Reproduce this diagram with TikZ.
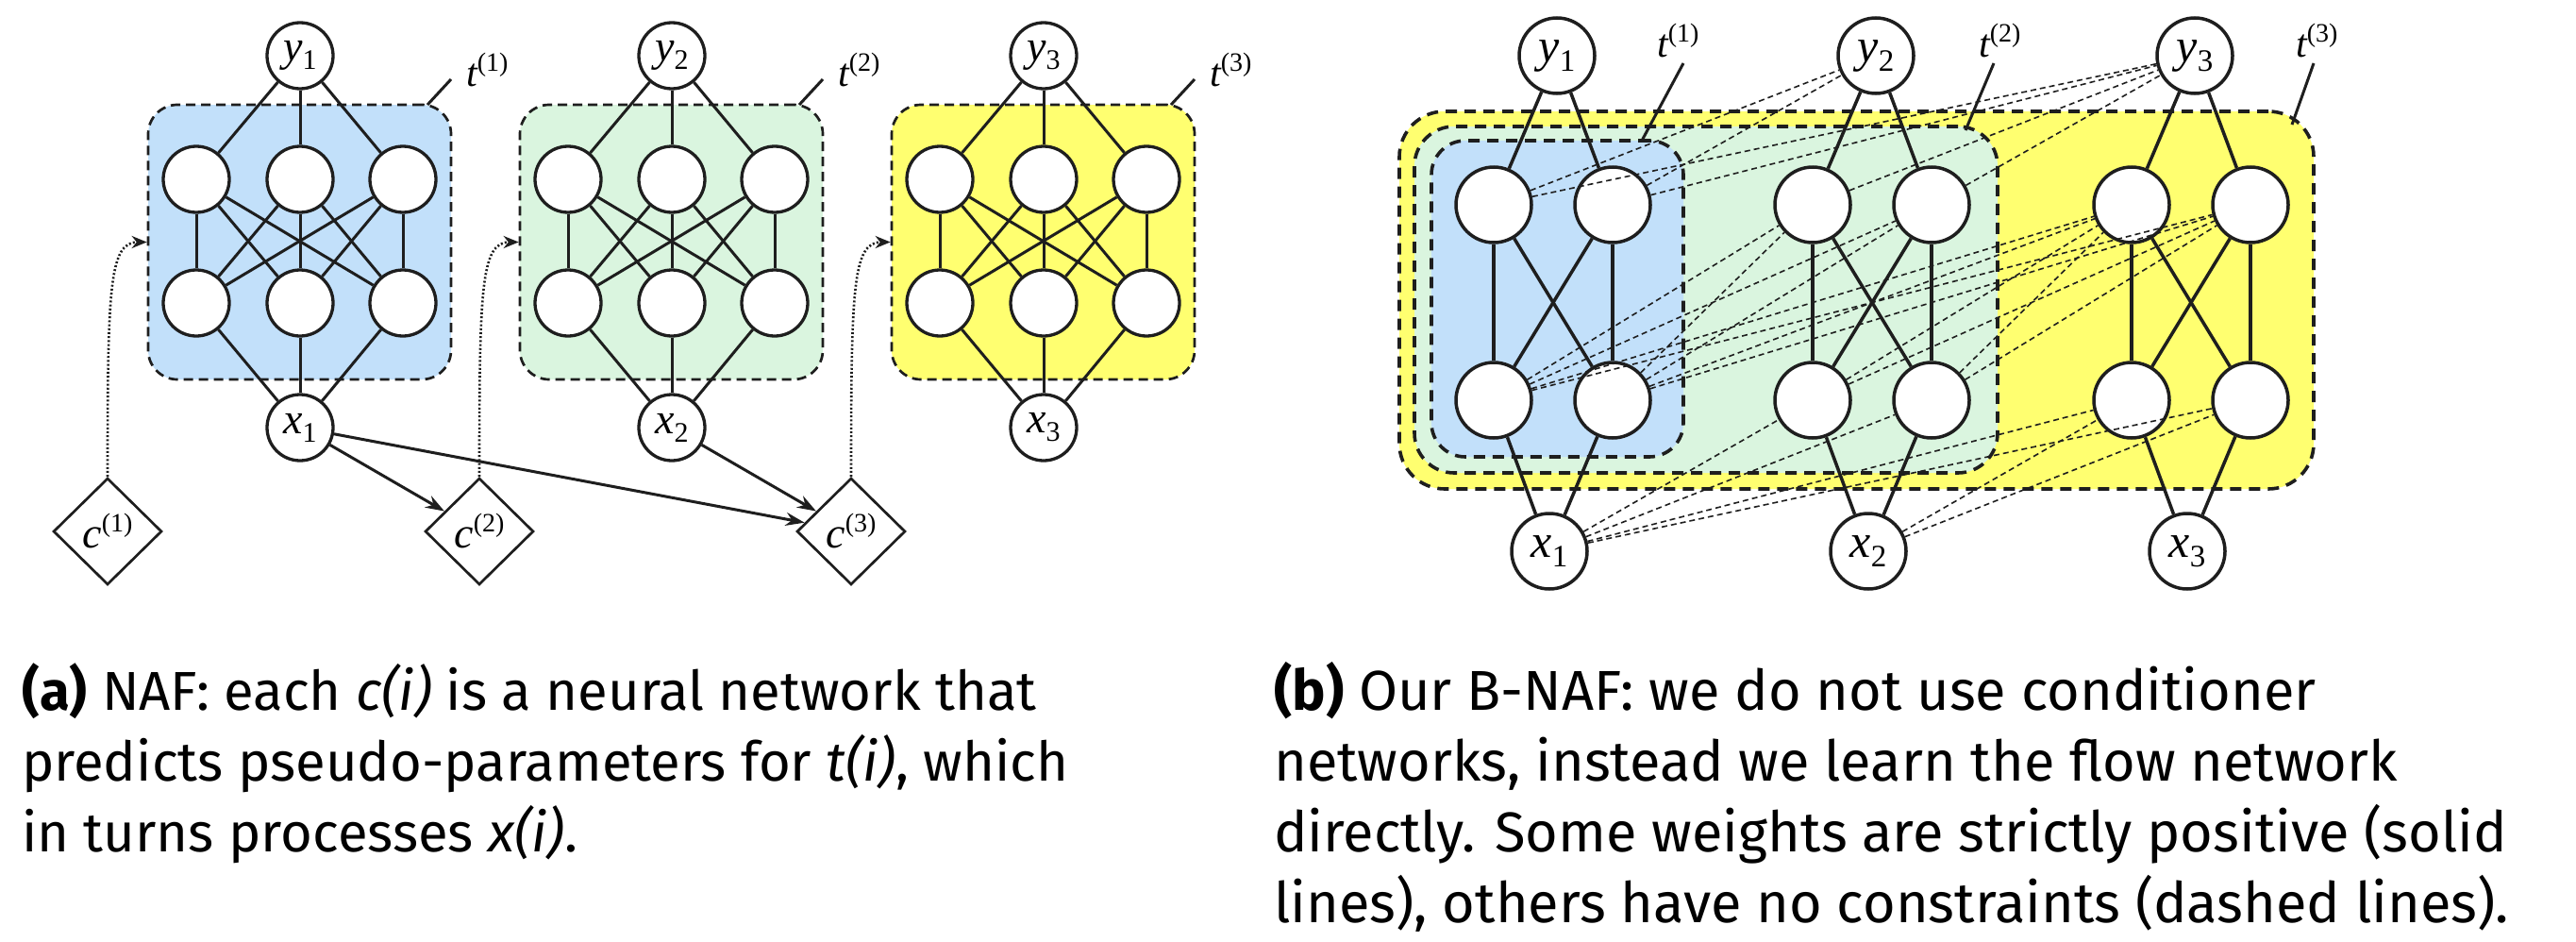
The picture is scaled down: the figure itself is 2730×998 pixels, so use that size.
\documentclass[tikz,border=0pt]{standalone}
\usepackage{fontspec}
\setmainfont{Fira Sans}
\newfontfamily\tms{Liberation Serif}
\usetikzlibrary{shapes.geometric,arrows.meta}

\definecolor{ink}{RGB}{30,30,30}
\definecolor{blueF}{RGB}{194,224,250}
\definecolor{greenF}{RGB}{218,245,223}
\definecolor{yellowF}{RGB}{255,255,112}

% variable labels: italic letter with upright subscript
\newcommand\alab[2]{{\fontsize{46}{46}\selectfont\itshape #1}\raisebox{-9pt}{\fontsize{30}{30}\selectfont #2}}
\newcommand\blab[2]{{\fontsize{50}{50}\selectfont\itshape #1}\raisebox{-10pt}{\fontsize{33}{33}\selectfont #2}}
% transformer / conditioner labels with bracketed superscript
\newcommand\tlab[1]{{\fontsize{42}{42}\selectfont\itshape t}\raisebox{17pt}{\fontsize{28}{28}\selectfont(#1)}}
\newcommand\clab[1]{{\fontsize{46}{46}\selectfont\itshape c}\raisebox{17pt}{\fontsize{28}{28}\selectfont(#1)}}

\begin{document}
\begin{tikzpicture}[x=1pt,y=-1pt,
  neuronA/.style={circle, draw=ink, fill=white, line width=3.3pt, minimum size=70pt, inner sep=0pt, font=\tms},
  neuronB/.style={circle, draw=ink, fill=white, line width=3.5pt, minimum size=80pt, inner sep=0pt, font=\tms},
  gate/.style={diamond, draw=ink, fill=white, line width=2.7pt, minimum width=115pt, minimum height=113pt, inner sep=0pt, font=\tms},
  blockA/.style={draw=ink, rounded corners=31pt, dash pattern=on 10pt off 6pt, line width=2.7pt, inner sep=0pt},
  blockB/.style={draw=ink, dash pattern=on 12pt off 8pt, line width=3.6pt, inner sep=0pt},
  wireA/.style={draw=ink, line width=3pt},
  wireB/.style={draw=ink, line width=3.5pt},
  free/.style={draw=ink, line width=1.6pt, dash pattern=on 6pt off 4pt},
  feed/.style={draw=ink, line width=3pt, -{Stealth[length=20pt,width=14pt]}},
  cond/.style={draw=ink, line width=2.6pt, dash pattern=on 2pt off 2.2pt, -{Stealth[length=16pt,width=13pt]}},
  tag/.style={font=\tms, inner sep=0pt, anchor=base west},
  captext/.style={font=\fontsize{58}{75}\selectfont, inner sep=0pt, anchor=base west},
  captextb/.style={font=\fontsize{59.5}{75}\selectfont, inner sep=0pt, anchor=base west}
]
\useasboundingbox (0,0) rectangle (2730,998);
\clip (0,0) rectangle (2730,998);

% ---------------- (a) NAF ----------------
\foreach \i/\col in {1/blueF,2/greenF,3/yellowF}{
  \pgfmathsetmacro\ox{394*(\i-1)}
  \node[blockA, fill=\col, minimum width=321pt, minimum height=291pt] (A\i) at ({317.5+\ox},256.5) {};
  \node[neuronA] (Y\i) at ({318+\ox},59) {\alab{y}{\i}};
  \node[neuronA] (X\i) at ({318+\ox},453) {\alab{x}{\i}};
  \foreach \j/\dx in {1/-110,2/0,3/109}{
    \node[neuronA] (T\i\j) at ({318+\ox+\dx},190) {};
    \node[neuronA] (B\i\j) at ({318+\ox+\dx},321) {};
  }
  \foreach \j in {1,2,3}{
    \draw[wireA] (X\i) -- (B\i\j);
    \draw[wireA] (T\i\j) -- (Y\i);
    \foreach \k in {1,2,3}{\draw[wireA] (B\i\j) -- (T\i\k);}
  }
  \node[gate] (C\i) at ({114+\ox},563) {\clab{\i}};
  \draw[cond] (C\i.north) .. controls +(0,-200) and +(-40,0) .. (A\i.west);
  \node[tag] (tA\i) at ({494+\ox},92) {\tlab{\i}};
  \coordinate (tAs\i) at ({453+\ox},111);
  \coordinate (tAe\i) at ({478+\ox},84);
  \draw[wireA] (tAs\i) -- (tAe\i);
}
\draw[feed] (X1) -- (C2);
\draw[feed] (X1) -- (C3);
\draw[feed] (X2) -- (C3);

% ---------------- (b) B-NAF ----------------
\node[blockB, rounded corners=48pt, fill=yellowF, minimum width=969pt, minimum height=400pt] (BY) at (1967.5,318) {};
\node[blockB, rounded corners=42pt, fill=greenF, minimum width=618pt, minimum height=367pt] (BG) at (1808,317.5) {};
\node[blockB, rounded corners=36pt, fill=blueF, minimum width=267pt, minimum height=335pt] (BB) at (1650.5,316.5) {};

\foreach \b in {1,2,3}{
  \pgfmathsetmacro\ox{338*(\b-1)}
  \node[neuronB] (P\b1) at ({1583+\ox},424) {};
  \node[neuronB] (P\b2) at ({1709+\ox},424) {};
  \node[neuronB] (Q\b1) at ({1583+\ox},217) {};
  \node[neuronB] (Q\b2) at ({1709+\ox},217) {};
  \node[neuronB] (V\b) at ({1650+\ox},59) {\blab{y}{\b}};
  \node[neuronB] (U\b) at ({1642+\ox},584) {\blab{x}{\b}};
  \foreach \j in {1,2}{
    \draw[wireB] (U\b) -- (P\b\j);
    \draw[wireB] (Q\b\j) -- (V\b);
    \foreach \k in {1,2}{\draw[wireB] (P\b\j) -- (Q\b\k);}
  }
}
% unconstrained (off-diagonal) weights
\foreach \j in {1,2}{
  \draw[free] (U1) -- (P2\j);
  \draw[free] (U1) -- (P3\j);
  \draw[free] (U2) -- (P3\j);
  \foreach \k in {1,2}{
    \draw[free] (P1\k) -- (Q2\j);
    \draw[free] (P1\k) -- (Q3\j);
    \draw[free] (P2\k) -- (Q3\j);
  }
  \draw[free] (Q1\j) -- (V2);
  \draw[free] (Q1\j) -- (V3);
  \draw[free] (Q2\j) -- (V3);
}

\node[tag] (tB1) at (1756,61) {\tlab{1}};
\node[tag] (tB2) at (2097,61) {\tlab{2}};
\node[tag] (tB3) at (2433,61) {\tlab{3}};
\coordinate (tBs1) at (1740,149); \coordinate (tBe1) at (1784,67);
\coordinate (tBs2) at (2083,138); \coordinate (tBe2) at (2113,67);
\coordinate (tBs3) at (2429,132); \coordinate (tBe3) at (2452,67);
\foreach \i in {1,2,3}{\draw[wireA] (tBs\i) -- (tBe\i);}

% ---------------- captions ----------------
\node[captext] (ca1) at (23,752) {\textbf{(a)} NAF: each \textit{c(i)} is a neural network that};
\node[captext] (ca2) at (23,827) {predicts pseudo-parameters for \textit{t(i)}, which};
\node[captext] (ca3) at (23,902) {in turns processes \textit{x(i)}.};
\node[captextb] (cb1) at (1350,752) {\textbf{(b)} Our B-NAF: we do not use conditioner};
\node[captextb] (cb2) at (1350,827) {networks, instead we learn the flow network};
\node[captextb] (cb3) at (1350,902) {directly. Some weights are strictly positive (solid};
\node[captextb] (cb4) at (1350,977) {lines), others have no constraints (dashed lines).};
\end{tikzpicture}
\end{document}
